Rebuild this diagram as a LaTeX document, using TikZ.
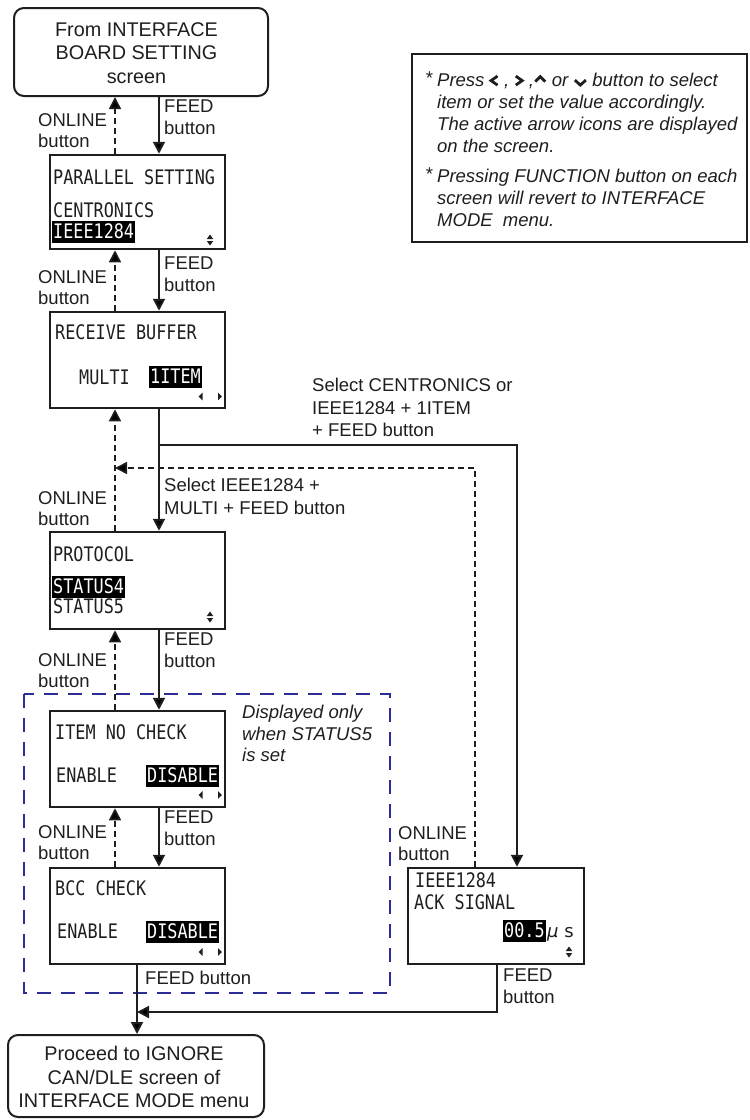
\documentclass[tikz,border=0pt]{standalone}
\usepackage{fontspec}
\setmainfont{Liberation Sans}
\newfontfamily\lcdfont[FakeStretch=0.84]{DejaVu Sans Mono}
\newfontfamily\symfont{DejaVu Sans}
\usetikzlibrary{arrows.meta}
\definecolor{ink}{RGB}{30,30,30}
\definecolor{navy}{RGB}{45,45,150}
\newcommand\chL{\tikz[x=1pt,y=1pt,baseline=0pt]\draw[line width=2.8pt](8.5,1)--(2,5.5)--(8.5,10);}
\newcommand\chR{\tikz[x=1pt,y=1pt,baseline=0pt]\draw[line width=2.8pt](1.5,1)--(8,5.5)--(1.5,10);}
\newcommand\chU{\tikz[x=1pt,y=1pt,baseline=0pt]\draw[line width=2.8pt](1,4.5)--(6,9.5)--(11,4.5);}
\newcommand\chD{\tikz[x=1pt,y=1pt,baseline=0pt]\draw[line width=2.8pt](1,6)--(6.5,1)--(12,6);}
\newcommand\updown[2]{\fill[ink] (#1-3.2,#2-1)--(#1+3.2,#2-1)--(#1,#2-5.5)--cycle;
  \fill[ink] (#1-3.2,#2+1)--(#1+3.2,#2+1)--(#1,#2+5.5)--cycle;}
\newcommand\leftright[2]{\fill[ink] (#1-2.5,#2)--(#1+1.5,#2-3.8)--(#1+1.5,#2+3.8)--cycle;
  \fill[ink] (#1+17,#2-3.8)--(#1+17,#2+3.8)--(#1+21,#2)--cycle;}
\tikzset{
 lbl/.style={anchor=north west, inner sep=0pt, align=left, text=ink, font=\fontsize{18.5}{21.5}\selectfont},
 screen/.style={draw=ink, line width=2.5pt, minimum width=175pt, inner sep=0pt},
 term/.style={draw=ink, line width=2pt, rounded corners=10pt, inner sep=0pt},
 termtext/.style={inner sep=0pt, align=center, text=ink, font=\fontsize{19.8}{23.5}\selectfont},
 lcd/.style={anchor=base west, inner sep=0pt, text=ink, font=\fontsize{20}{22}\lcdfont},
 hl/.style={lcd, fill=black, text=white, inner xsep=1pt, inner ysep=2.5pt, text height=15pt, text depth=2pt},
 feed/.style={draw=ink, line width=2pt, -{Triangle[length=12pt,width=12pt]}},
 online/.style={draw=ink, line width=1.6pt, dash pattern=on 6pt off 4pt, -{Triangle[length=12pt,width=12pt]}},
}
\begin{document}
\begin{tikzpicture}[x=1pt,y=-1pt]
\useasboundingbox (0,0) rectangle (750,1120);
% columns
\coordinate (xF) at (159,0);
\coordinate (xO) at (115,0);
\coordinate (xR) at (517,0);
\coordinate (xD) at (475,0);
\coordinate (xE) at (137,0);
\coordinate (xI) at (497,0);

% terminal boxes
\node[term, minimum width=254pt, minimum height=88pt] (top) at (141,52) {};
\node[termtext] (topT) at (136.5,53) {From INTERFACE\\BOARD SETTING\\screen};
\node[term, minimum width=256pt, minimum height=82pt] (fin) at (136,1076) {};
\node[termtext] (finT) at (134,1077) {Proceed to IGNORE\\CAN/DLE screen of\\INTERFACE MODE menu};

% note box
\node[draw=ink, line width=2pt, minimum width=335pt, minimum height=188pt, inner sep=0pt] (note) at (579.5,148) {};
\node[lbl, font=\fontsize{18.5}{22}\itshape] (s1) at (425,72) {*};
\node[lbl, font=\fontsize{18.5}{22}\itshape] (n1) at (437,72.5) {Press \chL{} , \chR{} ,\chU{} or \chD{} button to select\\item or set the value accordingly.\\The active arrow icons are displayed\\on the screen.};
\node[lbl, font=\fontsize{18.5}{22}\itshape] (s2) at (425,168) {*};
\node[lbl, font=\fontsize{18.5}{22}\itshape] (n2) at (437,169) {Pressing FUNCTION button on each\\screen will revert to INTERFACE\\MODE\ \ menu.};

% blue dashed region
\draw[navy, line width=2.5pt, dash pattern=on 14pt off 10pt] (24,694) rectangle (390,993);
\node[lbl, font=\fontsize{18.5}{21.5}\itshape] (disp) at (242,705) {Displayed only\\when STATUS5\\is set};

% screens
\node[screen, minimum height=94pt] (ps) at (137.5,202) {};
\node[lcd] (ps1) at (53,184) {PARALLEL SETTING};
\node[lcd] (ps2) at (53,217) {CENTRONICS};
\node[hl] (ps3) at (52,238.5) {IEEE1284};
\updown{210}{240}

\node[screen, minimum height=96pt] (rb) at (137.5,360) {};
\node[lcd] (rb1) at (55,339) {RECEIVE BUFFER};
\node[lcd] (rb2) at (79,384) {MULTI};
\node[hl] (rb3) at (149,383.5) {1ITEM};
\leftright{201}{396.5}

\node[screen, minimum height=97pt] (pr) at (137.5,580.5) {};
\node[lcd] (pr1) at (53,561) {PROTOCOL};
\node[hl] (pr2) at (52,593.5) {STATUS4};
\node[lcd] (pr3) at (53,613) {STATUS5};
\updown{210}{617}

\node[screen, minimum height=96pt] (inc) at (137.5,759) {};
\node[lcd] (inc1) at (55,739) {ITEM NO CHECK};
\node[lcd] (inc2) at (56,782) {ENABLE};
\node[hl] (inc3) at (146,782.5) {DISABLE};
\leftright{201}{795}

\node[screen, minimum height=96pt] (bcc) at (137.5,916) {};
\node[lcd] (bcc1) at (55,895) {BCC CHECK};
\node[lcd] (bcc2) at (57,938.5) {ENABLE};
\node[hl] (bcc3) at (146,938.5) {DISABLE};
\leftright{201}{952}

\node[screen, minimum width=176pt, minimum height=96pt] (ieee) at (496,916) {};
\node[lcd] (ie1) at (415,887) {IEEE1284};
\node[lcd] (ie2) at (414,909) {ACK SIGNAL};
\node[hl] (ie3) at (503,937.5) {00.5};
\node[anchor=base west, inner sep=0pt, text=ink, font=\fontsize{18}{20}\symfont] (ie4) at (547,937.5) {\itshape μ\upshape\ s};
\updown{569}{952}

% labels
\node[lbl] (l1a) at (164,100) {FEED\\button};
\node[lbl] (l1b) at (38,113) {ONLINE\\button};
\node[lbl] (l2a) at (164,257) {FEED\\button};
\node[lbl] (l2b) at (38,270) {ONLINE\\button};
\node[lbl, font=\fontsize{18.5}{22.5}\selectfont] (l3) at (312,378) {Select CENTRONICS or\\IEEE1284 + 1ITEM\\+ FEED button};
\node[lbl, font=\fontsize{18.5}{22.5}\selectfont] (l4a) at (164,478) {Select IEEE1284 +\\MULTI + FEED button};
\node[lbl] (l4b) at (38,491) {ONLINE\\button};
\node[lbl] (l5a) at (164,633) {FEED\\button};
\node[lbl] (l5b) at (38,653) {ONLINE\\button};
\node[lbl] (l6a) at (164,811) {FEED\\button};
\node[lbl] (l6b) at (38,825) {ONLINE\\button};
\node[lbl] (l6c) at (398,826) {ONLINE\\button};
\node[lbl] (l7) at (145,971) {FEED button};
\node[lbl] (l8) at (503,969) {FEED\\button};

% connectors
\draw[feed] (top.south -| xF) -- (ps.north -| xF);
\draw[online] (ps.north -| xO) -- (top.south -| xO);
\draw[feed] (ps.south -| xF) -- (rb.north -| xF);
\draw[online] (rb.north -| xO) -- (ps.south -| xO);
\draw[feed] (rb.south -| xF) -- (pr.north -| xF);
\draw[online] (pr.north -| xO) -- (rb.south -| xO);
\coordinate (br) at (159,445);
\draw[feed] (br) -| (ieee.north -| xR);
\coordinate (dj) at (115,468);
\draw[online] (ieee.north -| xD) |- (dj);
\draw[feed] (pr.south -| xF) -- (inc.north -| xF);
\draw[online] (inc.north -| xO) -- (pr.south -| xO);
\draw[feed] (inc.south -| xF) -- (bcc.north -| xF);
\draw[online] (bcc.north -| xO) -- (inc.south -| xO);
\draw[feed] (bcc.south -| xE) -- (fin.north -| xE);
\coordinate (jn) at (137,1012);
\draw[feed] (ieee.south -| xI) |- (jn);
\end{tikzpicture}
\end{document}
